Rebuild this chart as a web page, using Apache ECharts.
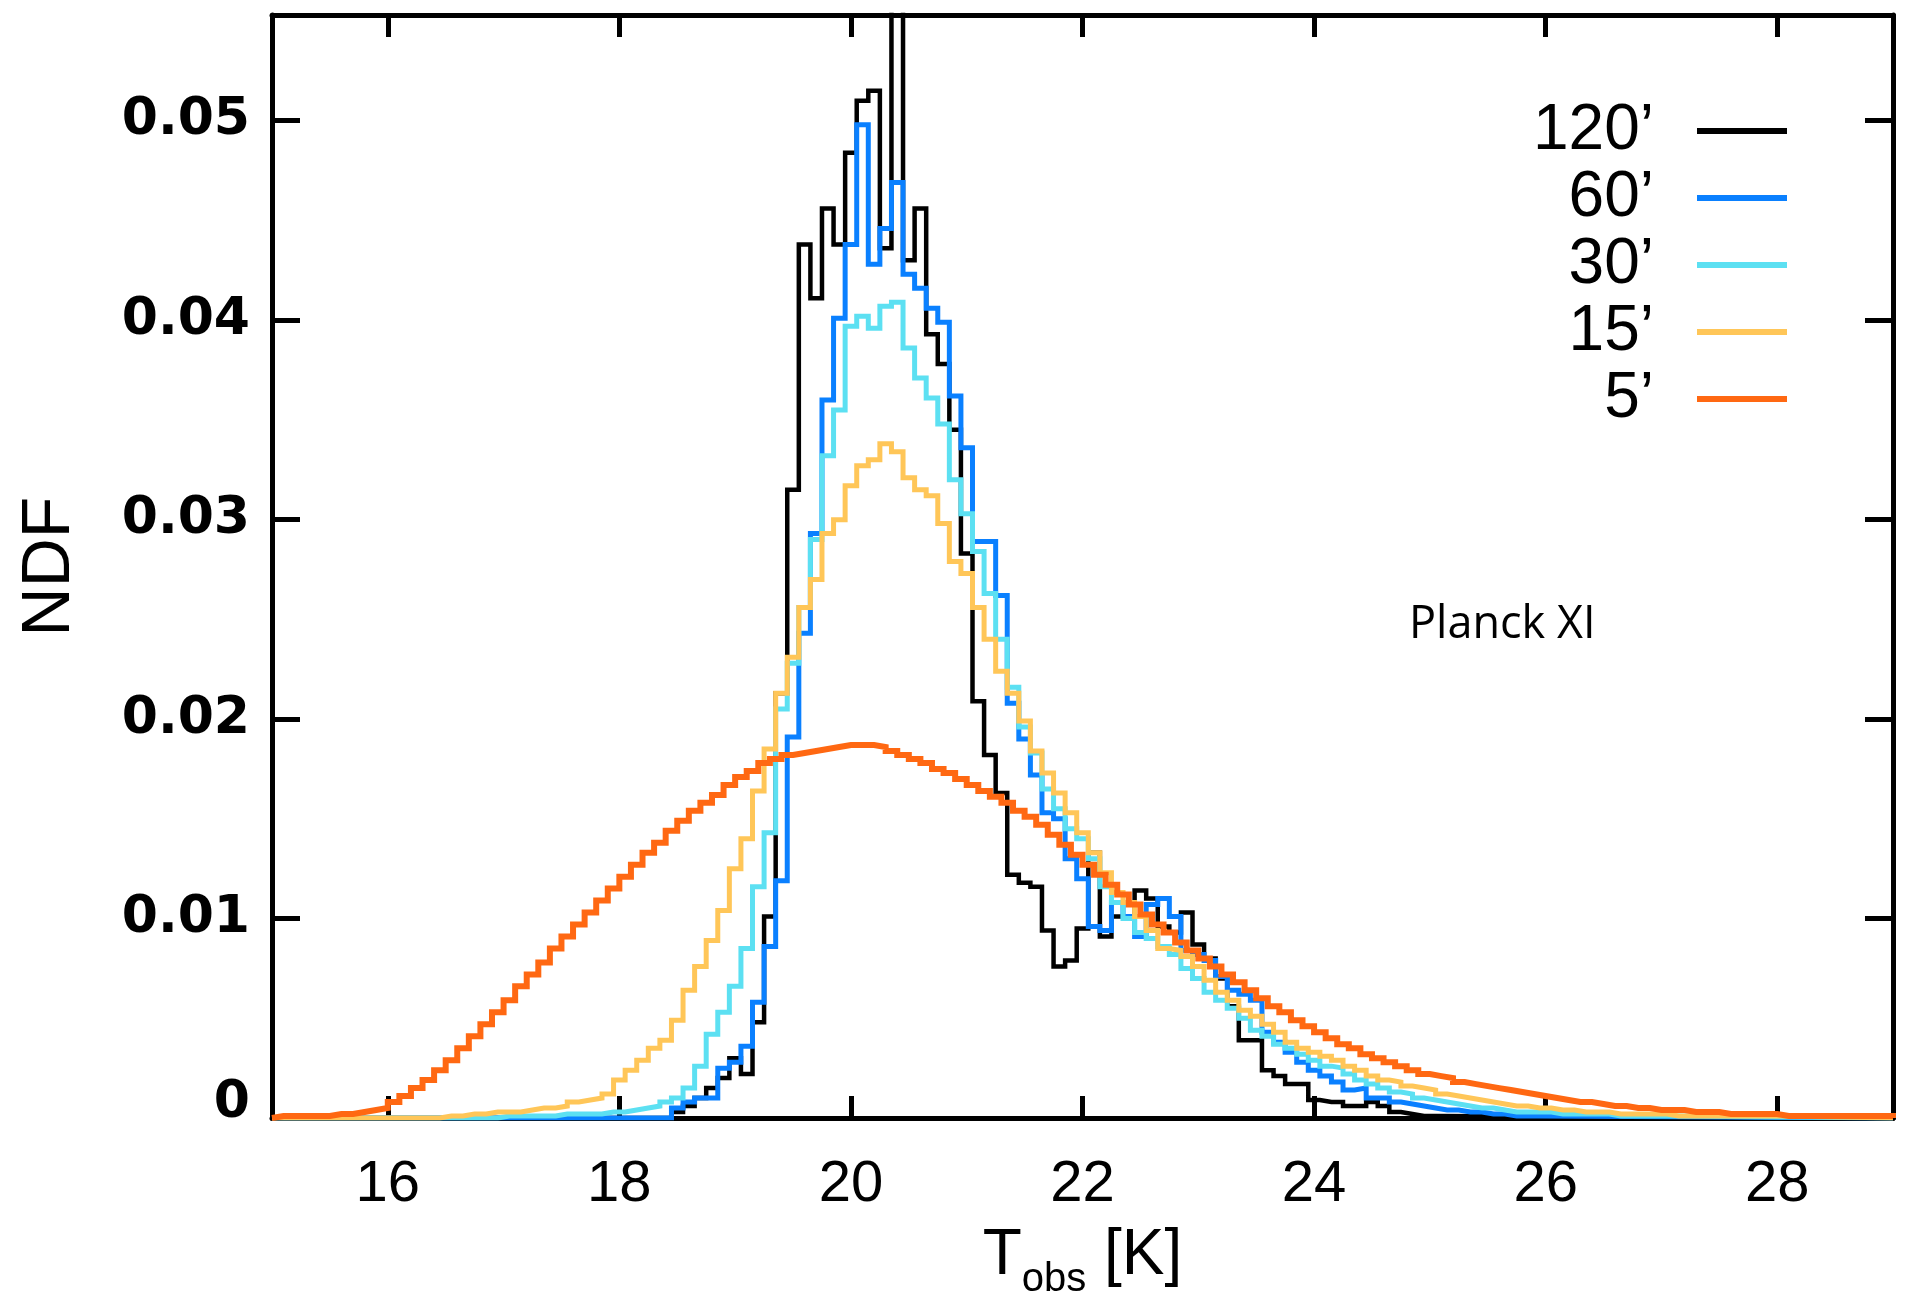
<!DOCTYPE html>
<html>
<head>
<meta charset="utf-8">
<style>
html,body{margin:0;padding:0;background:#fff;}
#chart{width:1914px;height:1296px;}
</style>
<script src="https://cdn.jsdelivr.net/npm/echarts@6/dist/echarts.min.js"></script>
</head>
<body>
<div id="chart"></div>
<script>
// ---------------- data ----------------
const X_MIN = 15, X_MAX = 29;
const Y_MIN = 0, Y_MAX = 0.0553;
const xTickValues = [16, 18, 20, 22, 24, 26, 28];
const yTickValues = [0, 0.01, 0.02, 0.03, 0.04, 0.05];
const binWidth = 0.1;

const seriesNames = ['120\u2019', '60\u2019', '30\u2019', '15\u2019', '5\u2019'];

// 120' : first bin left edge 18.45
const black120Start = 18.45;
const black120 = [
  0.0003, 0.0006, 0.0010, 0.0015, 0.0020, 0.0030, 0.0022, 0.0048, 0.0101, 0.0213,
  0.0315, 0.0438, 0.0411, 0.0456, 0.0438, 0.0484, 0.0510, 0.0515, 0.0436, 0.0700,
  0.0430, 0.0456, 0.0393, 0.0378, 0.0345, 0.0283, 0.0209, 0.0182, 0.0163, 0.0122,
  0.0118, 0.0116, 0.0094, 0.0076, 0.0079, 0.0095, 0.0133, 0.0091, 0.0101, 0.0101,
  0.0114, 0.0110, 0.0096, 0.0093, 0.0103, 0.0087, 0.0080, 0.0070, 0.0056, 0.0039,
  0.0039, 0.0024, 0.0021, 0.0017, 0.0017, 0.0009, 0.0008, 0.0008, 0.0006, 0.0006,
  0.0008, 0.0006, 0.0003, 0.0002, 0.0001, 0.0001
];

// 60' : first bin left edge 18.45
const blue60Start = 18.45;
const blue60 = [
  0.0005, 0.0008, 0.0010, 0.0010, 0.0025, 0.0028, 0.0036, 0.0058, 0.0086, 0.0119,
  0.0191, 0.0243, 0.0293, 0.0360, 0.0401, 0.0438, 0.0498, 0.0428, 0.0446, 0.0469,
  0.0423, 0.0416, 0.0406, 0.0399, 0.0362, 0.0336, 0.0289, 0.0289, 0.0262, 0.0208,
  0.0190, 0.0172, 0.0153, 0.0150, 0.0130, 0.0120, 0.0096, 0.0094, 0.0108, 0.0101,
  0.0091, 0.0107, 0.0110, 0.0101, 0.0084, 0.0082, 0.0079, 0.0071, 0.0064, 0.0062,
  0.0059, 0.0043, 0.0038, 0.0033, 0.0028, 0.0024, 0.0021, 0.0018, 0.0014, 0.0015,
  0.0010, 0.0010, 0.0008, 0.0007, 0.0006, 0.0005, 0.0004, 0.0004, 0.0003, 0.0003,
  0.0002, 0.0002, 0.0001, 0.0001, 0.0001
];

// 30' : first bin left edge 16.95
const cyan30Start = 16.95;
const cyan30 = [
  0.0001, 0.0001, 0.0001, 0.0001, 0.0001, 0.0002, 0.0002, 0.0002, 0.0002, 0.0003,
  0.0003, 0.0004, 0.0005, 0.0006, 0.0008, 0.0010, 0.0015, 0.0026, 0.0042, 0.0053,
  0.0066, 0.0085, 0.0116, 0.0143, 0.0205, 0.0228, 0.0256, 0.0290, 0.0332, 0.0355,
  0.0397, 0.0402, 0.0396, 0.0407, 0.0409, 0.0386, 0.0371, 0.0361, 0.0348, 0.0320,
  0.0303, 0.0284, 0.0263, 0.0240, 0.0216, 0.0196, 0.0183, 0.0165, 0.0155, 0.0145,
  0.0140, 0.0130, 0.0116, 0.0108, 0.0100, 0.0093, 0.0090, 0.0086, 0.0082, 0.0075,
  0.0070, 0.0063, 0.0059, 0.0055, 0.0050, 0.0044, 0.0041, 0.0037, 0.0035, 0.0032,
  0.0029, 0.0026, 0.0025, 0.0022, 0.0019, 0.0017, 0.0015, 0.0013, 0.0012, 0.0010,
  0.0009, 0.0008, 0.0007, 0.0006, 0.0005, 0.0005, 0.0004, 0.0003, 0.0003, 0.0003,
  0.0003, 0.0002, 0.0002, 0.0002, 0.0002, 0.0002, 0.0001, 0.0001, 0.0001, 0.0001,
  0.0001
];

// 15' : first bin left edge 16.45
const yellow15Start = 16.45;
const yellow15 = [
  0.0001, 0.0001, 0.0002, 0.0002, 0.0003, 0.0003, 0.0003, 0.0004, 0.0005, 0.0005,
  0.0006, 0.0008, 0.0009, 0.0010, 0.0012, 0.0019, 0.0024, 0.0029, 0.0035, 0.0039,
  0.0049, 0.0064, 0.0076, 0.0089, 0.0104, 0.0125, 0.0140, 0.0164, 0.0185, 0.0213,
  0.0231, 0.0256, 0.0270, 0.0293, 0.0300, 0.0317, 0.0327, 0.0330, 0.0338, 0.0334,
  0.0321, 0.0315, 0.0312, 0.0298, 0.0279, 0.0273, 0.0256, 0.0240, 0.0224, 0.0213,
  0.0199, 0.0184, 0.0173, 0.0163, 0.0153, 0.0143, 0.0133, 0.0123, 0.0113, 0.0108,
  0.0101, 0.0094, 0.0085, 0.0084, 0.0081, 0.0076, 0.0069, 0.0063, 0.0059, 0.0054,
  0.0051, 0.0047, 0.0043, 0.0038, 0.0035, 0.0033, 0.0031, 0.0029, 0.0026, 0.0024,
  0.0021, 0.0019, 0.0018, 0.0016, 0.0015, 0.0014, 0.0012, 0.0011, 0.0010, 0.0009,
  0.0008, 0.0007, 0.0006, 0.0006, 0.0005, 0.0005, 0.0004, 0.0004, 0.0003, 0.0003,
  0.0003, 0.0002, 0.0002, 0.0002, 0.0002, 0.0002, 0.0001, 0.0001, 0.0001, 0.0001,
  0.0001, 0.0001, 0.0001, 0.0001, 0.0001, 0.0001
];

// 5' : first bin left edge 15.0
const orange5Start = 15.0;
const orange5 = [
  0.0001, 0.0001, 0.0001, 0.0001, 0.0001, 0.0002, 0.0002, 0.0003, 0.0004, 0.0005,
  0.0008, 0.0011, 0.0015, 0.0019, 0.0024, 0.0029, 0.0035, 0.0041, 0.0047, 0.0053,
  0.0059, 0.0066, 0.0072, 0.0078, 0.0085, 0.0091, 0.0097, 0.0103, 0.0109, 0.0115,
  0.0121, 0.0127, 0.0133, 0.0138, 0.0144, 0.0149, 0.0154, 0.0158, 0.0162, 0.0167,
  0.0171, 0.0174, 0.0178, 0.0180, 0.0182, 0.0183, 0.0184, 0.0185, 0.0186, 0.0187,
  0.0187, 0.0187, 0.0186, 0.0184, 0.0182, 0.0180, 0.0178, 0.0175, 0.0173, 0.0170,
  0.0167, 0.0164, 0.0161, 0.0158, 0.0154, 0.0151, 0.0147, 0.0142, 0.0137, 0.0132,
  0.0127, 0.0122, 0.0117, 0.0112, 0.0107, 0.0102, 0.0097, 0.0093, 0.0088, 0.0084,
  0.0080, 0.0076, 0.0072, 0.0068, 0.0064, 0.0060, 0.0056, 0.0053, 0.0049, 0.0046,
  0.0043, 0.0040, 0.0037, 0.0035, 0.0032, 0.0030, 0.0028, 0.0026, 0.0024, 0.0022,
  0.0021, 0.0020, 0.0018, 0.0017, 0.0016, 0.0015, 0.0014, 0.0013, 0.0012, 0.0011,
  0.0010, 0.0009, 0.0008, 0.0008, 0.0007, 0.0006, 0.0006, 0.0005, 0.0005, 0.0004,
  0.0004, 0.0004, 0.0003, 0.0003, 0.0003, 0.0002, 0.0002, 0.0002, 0.0002, 0.0002,
  0.0001, 0.0001, 0.0001, 0.0001, 0.0001, 0.0001, 0.0001, 0.0001, 0.0001, 0.0001
];

// ---------------- build ----------------
function histPoints(startEdge, values) {
  const pts = [[X_MIN, 0]];
  values.forEach(function (v, i) {
    pts.push([+(startEdge + i * binWidth).toFixed(4), v]);
  });
  pts.push([+(startEdge + values.length * binWidth).toFixed(4), 0]);
  pts.push([X_MAX, 0]);
  return pts;
}

const NARROW = "'Liberation Sans Narrow', 'Liberation Sans', Arial, sans-serif";
const SANS = "'Liberation Sans', Arial, sans-serif";

const defs = [
  { name: seriesNames[0], start: black120Start, values: black120, color: '#000000', width: 4.5 },
  { name: seriesNames[1], start: blue60Start, values: blue60, color: '#0a80ff', width: 5 },
  { name: seriesNames[2], start: cyan30Start, values: cyan30, color: '#5ce0f2', width: 5 },
  { name: seriesNames[3], start: yellow15Start, values: yellow15, color: '#ffc658', width: 5 },
  { name: seriesNames[4], start: orange5Start, values: orange5, color: '#ff6812', width: 6 }
];

const series = defs.map(function (d, i) {
  return {
    type: 'line',
    name: d.name,
    xAxisIndex: 0,
    yAxisIndex: 0,
    data: histPoints(d.start, d.values),
    step: 'end',
    symbol: 'none',
    showSymbol: false,
    clip: true,
    color: d.color,
    itemStyle: { color: d.color },
    lineStyle: { color: d.color, width: d.width, join: 'miter', cap: 'butt' },
    z: 2 + i,
    silent: true
  };
});

const frameLine = { onZero: false, lineStyle: { color: '#000', width: 5 } };

const chart = echarts.init(document.getElementById('chart'), null, { renderer: 'canvas' });
chart.setOption({
  animation: false,
  backgroundColor: '#ffffff',
  grid: { left: 272, right: 21, top: 15, bottom: 178, containLabel: false, outerBoundsMode: 'none' },
  xAxis: [
    {
      type: 'value', position: 'bottom', min: X_MIN, max: X_MAX,
      axisLine: frameLine,
      splitLine: { show: false },
      axisTick: { inside: true, length: 22, customValues: xTickValues, lineStyle: { color: '#000', width: 5 } },
      axisLabel: {
        customValues: xTickValues, margin: 38, color: '#000',
        fontFamily: NARROW, fontSize: 58
      },
      name: '{t|T}{s|obs}{t| [K]}',
      nameLocation: 'middle',
      nameGap: 106,
      nameTextStyle: {
        color: '#000', fontFamily: NARROW, fontSize: 64,
        rich: {
          t: { fontFamily: NARROW, fontSize: 64, color: '#000', verticalAlign: 'bottom', padding: [0, 0, 12, 0] },
          s: { fontFamily: NARROW, fontSize: 40, color: '#000', verticalAlign: 'bottom' }
        }
      }
    },
    {
      type: 'value', position: 'top', min: X_MIN, max: X_MAX,
      axisLine: frameLine,
      splitLine: { show: false },
      axisTick: { inside: true, length: 22, customValues: xTickValues, lineStyle: { color: '#000', width: 5 } },
      axisLabel: { show: false }
    }
  ],
  yAxis: [
    {
      type: 'value', position: 'left', min: Y_MIN, max: Y_MAX,
      axisLine: frameLine,
      splitLine: { show: false },
      axisTick: { inside: true, length: 28, customValues: yTickValues, lineStyle: { color: '#000', width: 5 } },
      axisLabel: {
        customValues: yTickValues, margin: 22, color: '#000',
        fontFamily: 'DejaVu Sans', fontWeight: 'bold', fontSize: 52,
        formatter: function (v) { return v === 0 ? '{z|0}' : v.toFixed(2); },
        rich: {
          z: { fontFamily: 'DejaVu Sans', fontWeight: 'bold', fontSize: 52, color: '#000', padding: [0, 0, 30, 0] }
        }
      },
      name: 'NDF',
      nameLocation: 'middle',
      nameGap: 188,
      nameTextStyle: { color: '#000', fontFamily: NARROW, fontSize: 68 }
    },
    {
      type: 'value', position: 'right', min: Y_MIN, max: Y_MAX,
      axisLine: frameLine,
      splitLine: { show: false },
      axisTick: { inside: true, length: 28, customValues: yTickValues, lineStyle: { color: '#000', width: 5 } },
      axisLabel: { show: false }
    }
  ],
  legend: {
    orient: 'vertical',
    left: 1524,
    top: 99,
    padding: 0,
    itemGap: 3,
    align: 'right',
    icon: 'rect',
    itemWidth: 90,
    itemHeight: 6,
    selectedMode: false,
    data: seriesNames,
    formatter: function (n) { return '{a|' + n + '}'; },
    textStyle: {
      color: '#000',
      rich: {
        a: { width: 130, align: 'right', padding: [0, 38, 0, 0], fontSize: 64, lineHeight: 64, fontFamily: SANS, color: '#000' }
      }
    }
  },
  graphic: [
    {
      type: 'text',
      left: 1409,
      top: 603,
      style: { text: 'Planck XI', fill: '#000', font: "45px 'Open Sans', sans-serif" }
    }
  ],
  series: series
});
</script>
</body>
</html>
